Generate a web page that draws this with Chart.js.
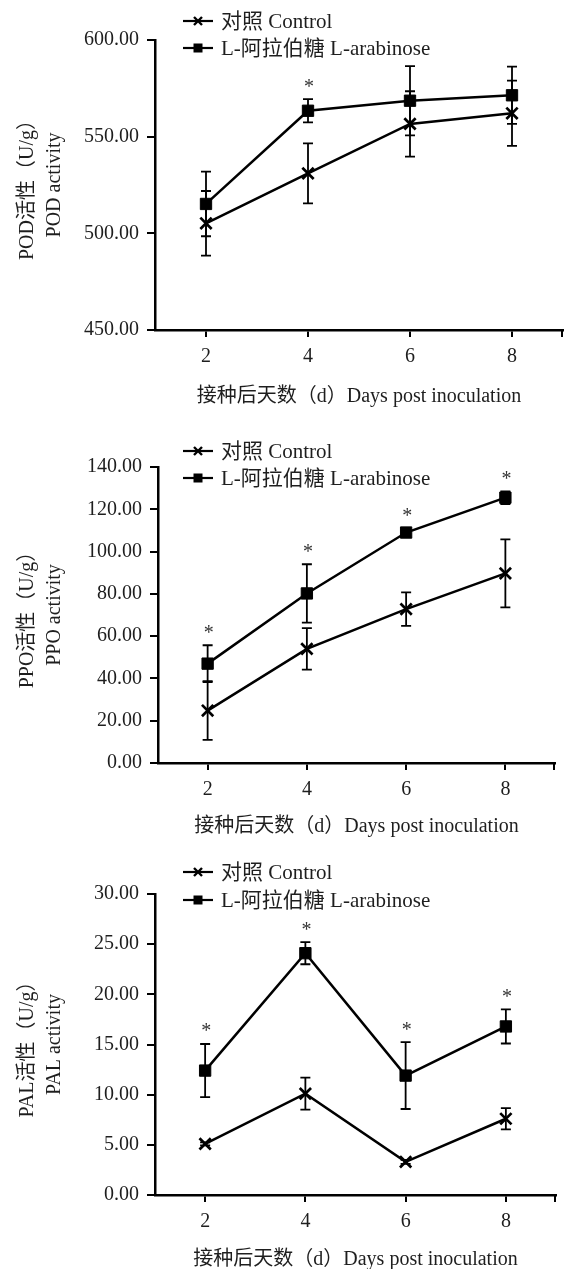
<!DOCTYPE html>
<html><head><meta charset="utf-8">
<script src="https://cdn.jsdelivr.net/npm/chart.js@4.4.1/dist/chart.umd.min.js"></script>
<style>
html,body{margin:0;padding:0;background:#fff;}
body{width:564px;height:1269px;position:relative;overflow:hidden;}
canvas{position:absolute;left:0;}
</style></head><body>
<canvas id="c1" width="584" height="420" style="top:0px"></canvas>
<canvas id="c2" width="584" height="420" style="top:425px"></canvas>
<canvas id="c3" width="584" height="424" style="top:845px"></canvas>
<script>
// ---- data ----
const days = ['2', '4', '6', '8'];
const seriesNames = ['对照 Control', 'L-阿拉伯糖 L-arabinose'];
const xTitle = '接种后天数（d）Days post inoculation';

const podTitle = ['POD活性（U/g）', 'POD activity'];
const podControl = [505.2, 531.0, 556.6, 562.1];
const podControlErr = [16.7, 15.5, 16.9, 16.9];
const podArab = [515.2, 563.4, 568.6, 571.4];
const podArabErr = [16.7, 6.0, 17.9, 14.8];
const podSig = [false, true, false, false];
const podTicks = [450, 500, 550, 600];

const ppoTitle = ['PPO活性（U/g）', 'PPO activity'];
const ppoControl = [24.8, 54.0, 72.8, 89.7];
const ppoControlErr = [13.9, 9.8, 7.9, 16.1];
const ppoArab = [47.0, 80.2, 109.0, 125.5];
const ppoArabErr = [8.7, 13.8, 2.0, 3.0];
const ppoSig = [true, true, true, true];
const ppoTicks = [0, 20, 40, 60, 80, 100, 120, 140];

const palTitle = ['PAL活性（U/g）', 'PAL activity'];
const palControl = [5.1, 10.1, 3.3, 7.6];
const palControlErr = [0.15, 1.6, 0.2, 1.05];
const palArab = [12.4, 24.1, 11.9, 16.8];
const palArabErr = [2.65, 1.1, 3.33, 1.7];
const palSig = [true, true, true, true];
const palTicks = [0, 5, 10, 15, 20, 25, 30];

// ---- drawing helpers ----
const FONT = "'Liberation Serif', 'Noto Sans CJK SC', serif";
const INK = '#000';
const TXT = '#1e1e1e';

function drawMarker(ctx, style, x, y, r) {
  ctx.save();
  ctx.strokeStyle = INK; ctx.fillStyle = INK;
  if (style === 'rect') {
    ctx.fillRect(x - r, y - r, 2 * r, 2 * r);
  } else {
    ctx.lineWidth = 2.4;
    ctx.beginPath();
    ctx.moveTo(x - r, y - r); ctx.lineTo(x + r, y + r);
    ctx.moveTo(x - r, y + r); ctx.lineTo(x + r, y - r);
    ctx.stroke();
  }
  ctx.restore();
}

const errorBarPlugin = {
  id: 'errorBars',
  afterDatasetsDraw(chart) {
    const ctx = chart.ctx;
    const y = chart.scales.y;
    ctx.save();
    ctx.strokeStyle = INK;
    ctx.lineWidth = 1.8;
    chart.data.datasets.forEach((ds, di) => {
      const meta = chart.getDatasetMeta(di);
      ds.data.forEach((v, i) => {
        const e = ds.errors[i];
        const px = meta.data[i].x;
        const top = y.getPixelForValue(v + e);
        const bot = y.getPixelForValue(v - e);
        const cw = 5;
        ctx.beginPath();
        ctx.moveTo(px, top); ctx.lineTo(px, bot);
        ctx.moveTo(px - cw, top); ctx.lineTo(px + cw, top);
        ctx.moveTo(px - cw, bot); ctx.lineTo(px + cw, bot);
        ctx.stroke();
        if (ds.sig && ds.sig[i]) {
          ctx.fillStyle = '#333';
          ctx.font = '20px ' + FONT;
          ctx.textAlign = 'center';
          ctx.textBaseline = 'alphabetic';
          ctx.fillText('*', px + 1, top - 17 + 10.5);
        }
      });
    });
    // right-end tick of the x axis
    const a = chart.chartArea;
    ctx.lineWidth = 2;
    ctx.beginPath();
    ctx.moveTo(a.right - 1, a.bottom); ctx.lineTo(a.right - 1, a.bottom + 7);
    ctx.stroke();
    ctx.restore();
  }
};

const legendPlugin = {
  id: 'customLegend',
  afterDraw(chart, args, opts) {
    const ctx = chart.ctx;
    ctx.save();
    chart.data.datasets.forEach((ds, i) => {
      const yy = opts.rows[i];
      ctx.strokeStyle = INK; ctx.lineWidth = 2.2;
      ctx.beginPath(); ctx.moveTo(183, yy); ctx.lineTo(213, yy); ctx.stroke();
      drawMarker(ctx, ds.pointStyle, 198, yy, ds.pointStyle === 'rect' ? 4.5 : 4);
      ctx.fillStyle = TXT;
      ctx.font = '21px ' + FONT;
      ctx.textAlign = 'left';
      ctx.textBaseline = 'middle';
      ctx.fillText(ds.label, 221, yy + 1);
    });
    ctx.restore();
  }
};

function makeChart(id, p) {
  return new Chart(document.getElementById(id), {
    type: 'line',
    data: {
      labels: days,
      datasets: [
        { label: seriesNames[0], data: p.control, errors: p.controlErr, sig: null,
          pointStyle: 'crossRot', pointRadius: 8, pointBorderWidth: 2.7 },
        { label: seriesNames[1], data: p.arab, errors: p.arabErr, sig: p.sig,
          pointStyle: 'rect', pointRadius: 8, pointBorderWidth: 1 }
      ].map(d => Object.assign(d, {
        borderColor: INK, borderWidth: 2.5, backgroundColor: INK,
        pointBackgroundColor: INK, pointBorderColor: INK, tension: 0, clip: false
      }))
    },
    options: {
      responsive: false, animation: false,
      layout: { padding: { top: p.top, right: p.right, left: 0, bottom: 0 } },
      plugins: {
        legend: { display: false }, tooltip: { enabled: false },
        customLegend: { rows: p.legendRows }
      },
      scales: {
        x: {
          type: 'category', offset: true,
          grid: { display: true, drawOnChartArea: false, drawTicks: true, tickLength: 7, color: INK, lineWidth: 2, offset: false },
          border: { display: true, color: INK, width: 2.5 },
          ticks: { color: TXT, font: { family: FONT, size: 20 }, padding: 8 },
          title: { display: true, text: xTitle, color: TXT,
                   font: { family: FONT, size: 20, lineHeight: 1 }, padding: { top: 0, bottom: p.titlePad } },
          afterFit: s => { s.height = p.xHeight; }
        },
        y: {
          min: p.ticks[0], max: p.ticks[p.ticks.length - 1],
          afterBuildTicks: s => { s.ticks = p.ticks.map(v => ({ value: v })); },
          grid: { display: true, drawOnChartArea: false, drawTicks: true, tickLength: 8, color: INK, lineWidth: 2 },
          border: { display: true, color: INK, width: 2.5 },
          ticks: { color: TXT, font: { family: FONT, size: 20 }, padding: 8,
                   callback: v => Number(v).toFixed(2) },
          title: { display: true, text: p.yTitle, color: TXT,
                   font: { family: FONT, size: 20, lineHeight: 1.35 }, padding: { top: 14, bottom: 0 } },
          afterFit: s => { s.width = p.axisWidth; }
        }
      }
    },
    plugins: [errorBarPlugin, legendPlugin]
  });
}

// canvases are 20px wider than the page (clipped); right padding sets the plot's right edge
makeChart('c1', { control: podControl, controlErr: podControlErr, arab: podArab, arabErr: podArabErr,
  sig: podSig, ticks: podTicks, yTitle: podTitle,
  top: 40, right: 21, axisWidth: 155, xHeight: 90, titlePad: 13, legendRows: [21, 48] });
makeChart('c2', { control: ppoControl, controlErr: ppoControlErr, arab: ppoArab, arabErr: ppoArabErr,
  sig: ppoSig, ticks: ppoTicks, yTitle: ppoTitle,
  top: 42, right: 29, axisWidth: 158, xHeight: 82, titlePad: 8, legendRows: [26, 53] });
makeChart('c3', { control: palControl, controlErr: palControlErr, arab: palArab, arabErr: palArabErr,
  sig: palSig, ticks: palTicks, yTitle: palTitle,
  top: 49, right: 28, axisWidth: 155, xHeight: 74, titlePad: -1, legendRows: [27, 55] });
</script>
</body></html>
